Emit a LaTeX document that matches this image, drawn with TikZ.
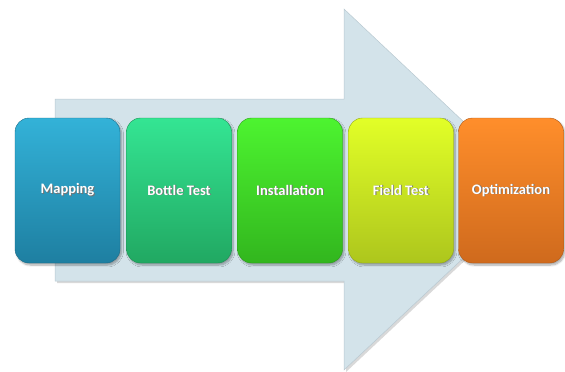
\documentclass[tikz,border=0pt]{standalone}
\usepackage{fontspec}
\setmainfont{Carlito}
\usetikzlibrary{shadows,shadows.blur}

\definecolor{arrowfill}{HTML}{D3E3EA}
\definecolor{arrowedge}{HTML}{B9C9D1}
\definecolor{mapT}{HTML}{33B2D8}
\definecolor{mapB}{HTML}{1E7FA1}
\definecolor{botT}{HTML}{34E593}
\definecolor{botB}{HTML}{21A862}
\definecolor{insT}{HTML}{4DF430}
\definecolor{insB}{HTML}{32B61E}
\definecolor{fldT}{HTML}{E2FF27}
\definecolor{fldB}{HTML}{ADC61D}
\definecolor{optT}{HTML}{FF8E2B}
\definecolor{optB}{HTML}{CF6A1D}

% white label with a soft dark drop behind it
\newcommand{\stagetext}[1]{\rlap{\raisebox{-0.9pt}{\kern0.9pt\color{black!55}#1}}#1}

\tikzset{
  stage/.style n args={2}{
    minimum width=105pt, minimum height=145pt, rounded corners=14pt,
    top color=#1, bottom color=#2, draw=#2!85!black, line width=0.4pt,
    blur shadow={shadow xshift=1.5pt, shadow yshift=-2pt, shadow blur steps=8, shadow opacity=35},
    text=white, font=\bfseries\fontsize{14.5}{16}\selectfont, inner sep=0pt
  }
}

\begin{document}
\begin{tikzpicture}[x=1pt,y=-1pt]
  \useasboundingbox (0,0) rectangle (565,372);

  % big block arrow behind the stages
  \fill[black!25, opacity=.6]
    (57,102) -- (346,102) -- (346,12) -- (538,192) -- (346,372) -- (346,283) -- (57,283) -- cycle;
  \filldraw[fill=arrowfill, draw=arrowedge, line width=0.5pt]
    (55,99) -- (344,99) -- (344,9) -- (536,190) -- (344,370) -- (344,281) -- (55,281) -- cycle;

  % process stages
  \node[stage={mapT}{mapB}] (mapping) at (67.5,190.5) {\stagetext{Mapping}};
  \node[stage={botT}{botB}] (bottle) at (179,190.5) {\stagetext{Bottle Test}};
  \node[stage={insT}{insB}] (install) at (290,190.5) {\stagetext{Installation}};
  \node[stage={fldT}{fldB}] (field) at (401,190.5) {\stagetext{Field Test}};
  \node[stage={optT}{optB}] (optim) at (511,190.5) {\stagetext{Optimization}};
\end{tikzpicture}
\end{document}
